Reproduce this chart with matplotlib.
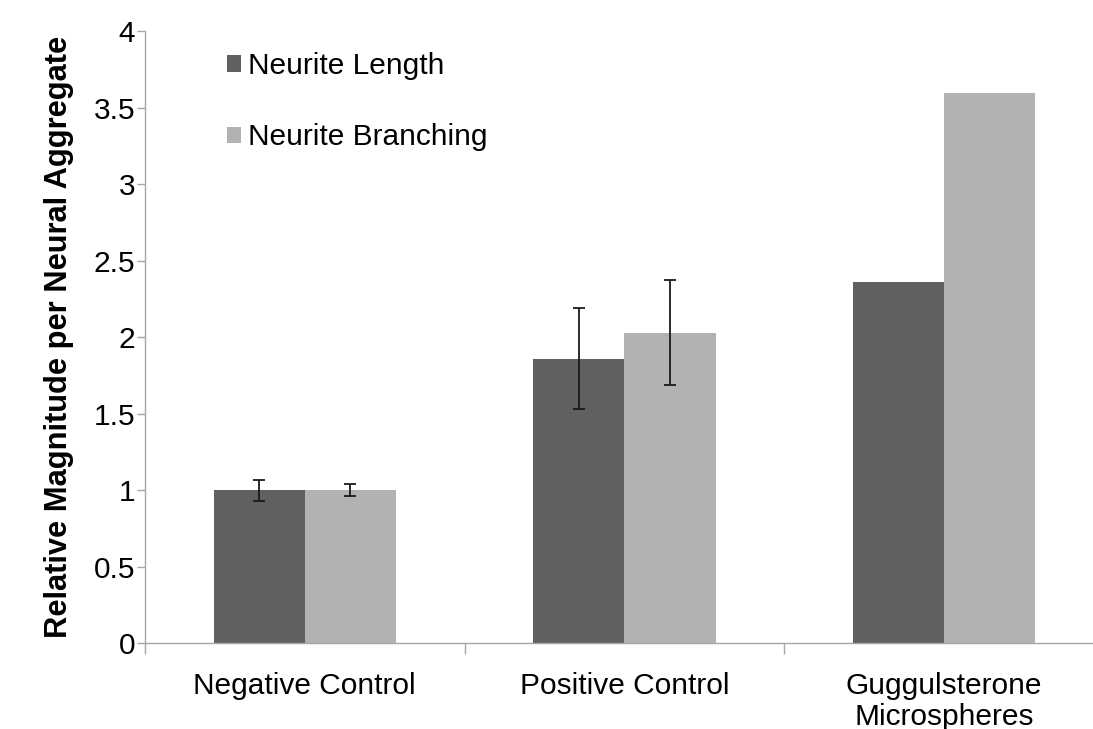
import matplotlib
matplotlib.use("Agg")
import matplotlib.pyplot as plt
import numpy as np

plt.rcParams['font.family'] = ['Liberation Sans', 'DejaVu Sans']

# data
categories = ["Negative Control", "Positive Control", "Guggulsterone\nMicrospheres"]
series_names = ["Neurite Length", "Neurite Branching"]
length_vals = [1.0, 1.86, 2.36]
branch_vals = [1.0, 2.03, 3.595]
length_err = [0.07, 0.33, 0]
branch_err = [0.04, 0.345, 0]
yticks = [0, 0.5, 1, 1.5, 2, 2.5, 3, 3.5, 4]
ytick_labels = ["0", "0.5", "1", "1.5", "2", "2.5", "3", "3.5", "4"]

dark = "#606060"
light = "#b2b2b2"
axis_col = "#a6a6a6"

fig = plt.figure(figsize=(10.93, 7.29), dpi=100)
ax = fig.add_axes([145 / 1093, (729 - 643.3) / 729, 1 - 145 / 1093, (643.3 - 31.3) / 729])

x = np.arange(len(categories))
w = 0.285
ax.bar(x - w / 2, length_vals, w, color=dark, label=series_names[0], zorder=2)
ax.bar(x + w / 2, branch_vals, w, color=light, label=series_names[1], zorder=2)

# error bars only where there are values
for xs, vals, errs in [(x - w / 2, length_vals, length_err), (x + w / 2, branch_vals, branch_err)]:
    idx = [i for i, e in enumerate(errs) if e > 0]
    ax.errorbar(xs[idx], np.array(vals)[idx], yerr=np.array(errs)[idx], fmt='none',
                ecolor='#1a1a1a', elinewidth=1.3, capsize=4.6, capthick=1.3, zorder=3)

ax.set_xlim(-0.5, 2.466)
ax.set_ylim(0, 4)
ax.set_yticks(yticks)
ax.set_yticklabels(ytick_labels, fontsize=21.5)

# category boundaries as major ticks, labels as minor ticks
ax.set_xticks([-0.5, 0.5, 1.5])
ax.set_xticklabels([])
ax.set_xticks(x, minor=True)
ax.set_xticklabels(categories, minor=True, fontsize=21.5, linespacing=1.1)
ax.tick_params(axis='x', which='major', length=8, width=1, color=axis_col, direction='out')
ax.tick_params(axis='x', which='minor', length=0, pad=21)
ax.tick_params(axis='y', length=6, width=1, color=axis_col, pad=1)

for s in ['top', 'right']:
    ax.spines[s].set_visible(False)
for s in ['left', 'bottom']:
    ax.spines[s].set_color(axis_col)
    ax.spines[s].set_linewidth(1)

ax.set_ylabel("Relative Magnitude per Neural Aggregate", fontsize=22.2, fontweight='bold', labelpad=14)

ax.legend(loc='upper left', bbox_to_anchor=(0.058, 1.01), frameon=False, fontsize=21.5,
          handlelength=0.47, handleheight=0.47, handletextpad=0.25, labelspacing=1.45)

fig.savefig("out.png", dpi=100)
